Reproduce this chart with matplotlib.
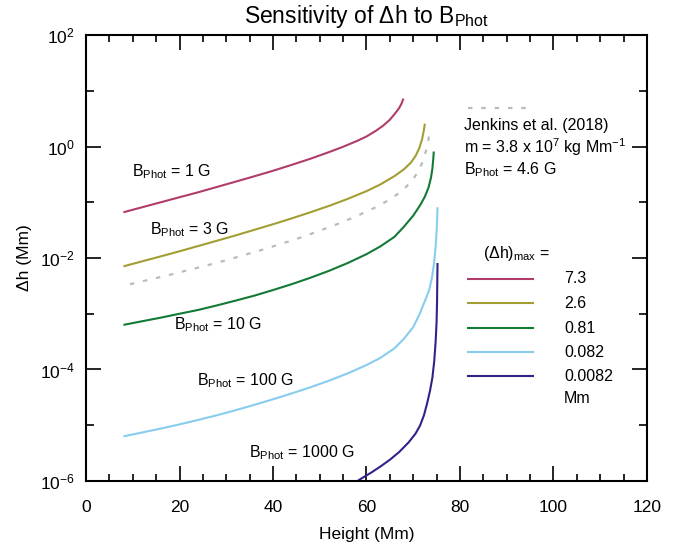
import matplotlib
matplotlib.use("Agg")
import matplotlib.pyplot as plt
from matplotlib.ticker import MultipleLocator, FixedLocator, NullFormatter

plt.rcParams['font.family'] = ['Liberation Sans', 'DejaVu Sans']
plt.rcParams['mathtext.fontset'] = 'custom'
plt.rcParams['mathtext.rm'] = 'Liberation Sans'
plt.rcParams['mathtext.it'] = 'Liberation Sans:italic'
plt.rcParams['mathtext.bf'] = 'Liberation Sans:bold'

# Werte (Hoehe in Mm, Delta h in Mm)
h_b1 = [8, 12, 16, 20, 24, 28, 32, 36, 40, 44, 48, 52, 55, 58, 60, 62, 63.5,
        65, 66, 67, 67.5, 67.9]
dh_b1 = [0.0661, 0.0813, 0.100, 0.123, 0.151, 0.188, 0.234, 0.292, 0.367, 0.468,
         0.603, 0.794, 0.989, 1.26, 1.51, 1.91, 2.34, 3.02, 3.80, 4.90, 5.89, 7.24]

h_b3 = [8, 12, 16, 20, 24, 28, 32, 36, 40, 44, 48, 52, 56, 60, 63, 66, 68,
        69.5, 70.5, 71.3, 71.9, 72.3, 72.5]
dh_b3 = [0.00708, 0.00871, 0.0107, 0.0132, 0.0164, 0.0204, 0.0254, 0.0320,
         0.0403, 0.0513, 0.0661, 0.0861, 0.115, 0.158, 0.209, 0.295, 0.389,
         0.513, 0.676, 0.933, 1.35, 2.00, 2.57]

h_jen = [9.4, 14, 18, 22, 26, 30, 34, 38, 42, 46, 50, 54, 58, 62, 65, 67.5,
         69.5, 71, 72, 72.8, 73.2, 73.4]
dh_jen = [0.00339, 0.00417, 0.00501, 0.00610, 0.00741, 0.00912, 0.0114, 0.0143,
          0.0182, 0.0234, 0.0309, 0.0412, 0.0569, 0.0813, 0.112, 0.158, 0.229,
          0.347, 0.525, 0.871, 1.26, 1.58]

h_b10 = [8, 12, 16, 20, 24, 28, 32, 36, 40, 44, 48, 52, 56, 60, 63, 66, 68,
         70, 71.5, 72.5, 73.3, 73.8, 74.1, 74.3, 74.4]
dh_b10 = [6.31e-4, 7.33e-4, 8.51e-4, 1.0e-3, 1.17e-3, 1.41e-3, 1.72e-3, 2.11e-3,
          2.66e-3, 3.39e-3, 4.42e-3, 5.89e-3, 8.13e-3, 0.0117, 0.0162, 0.0240,
          0.0363, 0.0575, 0.0891, 0.126, 0.186, 0.275, 0.398, 0.603, 0.813]

h_b100 = [8, 12, 16, 20, 24, 28, 32, 36, 40, 44, 48, 52, 56, 60, 63, 66, 68,
          70, 71.4, 72.6, 73.4, 74.0, 74.45, 74.75, 74.95, 75.1, 75.2]
dh_b100 = [6.31e-6, 7.41e-6, 8.71e-6, 1.035e-5, 1.245e-5, 1.51e-5, 1.86e-5,
           2.32e-5, 2.92e-5, 3.72e-5, 4.79e-5, 6.31e-5, 8.51e-5, 1.20e-4,
           1.62e-4, 2.40e-4, 3.55e-4, 5.75e-4, 1.0e-3, 1.78e-3, 2.63e-3,
           4.37e-3, 7.94e-3, 0.0141, 0.0251, 0.0447, 0.0813]

h_b1000 = [57, 59, 61, 63, 65, 67, 69, 70.5, 71.5, 72.3, 73.0, 73.6, 74.1,
           74.5, 74.8, 75.0, 75.1, 75.15, 75.2]
dh_b1000 = [8.71e-7, 1.12e-6, 1.41e-6, 1.82e-6, 2.40e-6, 3.31e-6, 4.90e-6,
            7.08e-6, 1.0e-5, 1.51e-5, 2.51e-5, 4.17e-5, 7.08e-5, 1.41e-4,
            3.16e-4, 7.08e-4, 1.58e-3, 3.55e-3, 8.13e-3]

max_labels = ['7.3', '2.6', '0.81', '0.082', '0.0082']
colors = ['#B03C6C', '#A39E33', '#137A35', '#88CCEE', '#2E2488']

fig = plt.figure(figsize=(6.86, 5.47), dpi=100)
ax = fig.add_axes([0.1254, 0.1207, 0.8176, 0.8153])

series = [(h_b1, dh_b1), (h_b3, dh_b3), (h_b10, dh_b10), (h_b100, dh_b100), (h_b1000, dh_b1000)]
for (hh, dd), c in zip(series, colors):
    ax.plot(hh, dd, color=c, lw=1.5, solid_capstyle='butt', solid_joinstyle='round')
ax.plot(h_jen, dh_jen, color='#BBBBBB', lw=1.6, linestyle=(0, (2, 4)))

ax.set_yscale('log')
ax.set_xlim(0, 120)
ax.set_ylim(1e-6, 1e2)

ax.xaxis.set_major_locator(MultipleLocator(20))
ax.xaxis.set_minor_locator(MultipleLocator(5))
ax.yaxis.set_major_locator(FixedLocator([1e-6, 1e-4, 1e-2, 1e0, 1e2]))
ax.yaxis.set_minor_locator(FixedLocator([1e-5, 1e-3, 1e-1, 1e1]))
ax.yaxis.set_minor_formatter(NullFormatter())
ax.tick_params(which='both', direction='in', top=True, right=True, width=1.2)
ax.tick_params(which='major', length=11, labelsize=12.5, pad=8)
ax.tick_params(axis='x', which='major', pad=14)
ax.tick_params(which='minor', length=6)
ax.tick_params(axis='x', which='minor', length=5)
for s in ax.spines.values():
    s.set_linewidth(1.5)

ax.set_xlabel('Height (Mm)', fontsize=12.5, labelpad=8)
ax.set_ylabel('Δh (Mm)', fontsize=12.5, labelpad=6)
ax.set_title(r'Sensitivity of Δh to B$_{\mathregular{Phot}}$', fontsize=16.5, pad=9)

# Beschriftungen an den Kurven
fs = 11.5
ax.text(9.8, 0.35, r'B$_{\mathregular{Phot}}$ = 1 G', fontsize=fs, va='center')
ax.text(13.7, 0.032, r'B$_{\mathregular{Phot}}$ = 3 G', fontsize=fs, va='center')
ax.text(18.8, 6.3e-4, r'B$_{\mathregular{Phot}}$ = 10 G', fontsize=fs, va='center')
ax.text(23.7, 6.4e-5, r'B$_{\mathregular{Phot}}$ = 100 G', fontsize=fs, va='center')
ax.text(34.9, 3.2e-6, r'B$_{\mathregular{Phot}}$ = 1000 G', fontsize=fs, va='center')

# Jenkins-Notiz
tr = ax.transAxes
ax.plot([0.681, 0.788], [0.836, 0.836], transform=tr, color='#BBBBBB', lw=1.6,
        linestyle=(0, (2, 4)))
ax.text(0.674, 0.798, 'Jenkins et al. (2018)', transform=tr, fontsize=fs, va='center')
ax.text(0.674, 0.749, r'm = 3.8 x 10$^{7}$ kg Mm$^{-1}$', transform=tr, fontsize=fs, va='center')
ax.text(0.674, 0.697, r'B$_{\mathregular{Phot}}$ = 4.6 G', transform=tr, fontsize=fs, va='center')

# Legende fuer (dh)max
ax.text(0.708, 0.511, r'(Δh)$_{\mathregular{max}}$ =', transform=tr, fontsize=fs, va='center')
leg_y = [0.453, 0.399, 0.343, 0.289, 0.235]
for y, c, lab in zip(leg_y, colors, max_labels):
    ax.plot([0.681, 0.797], [y, y], transform=tr, color=c, lw=1.5)
    ax.text(0.852, y, lab, transform=tr, fontsize=fs, va='center')
ax.text(0.852, 0.186, 'Mm', transform=tr, fontsize=fs, va='center')

plt.savefig('out.png', dpi=100)
